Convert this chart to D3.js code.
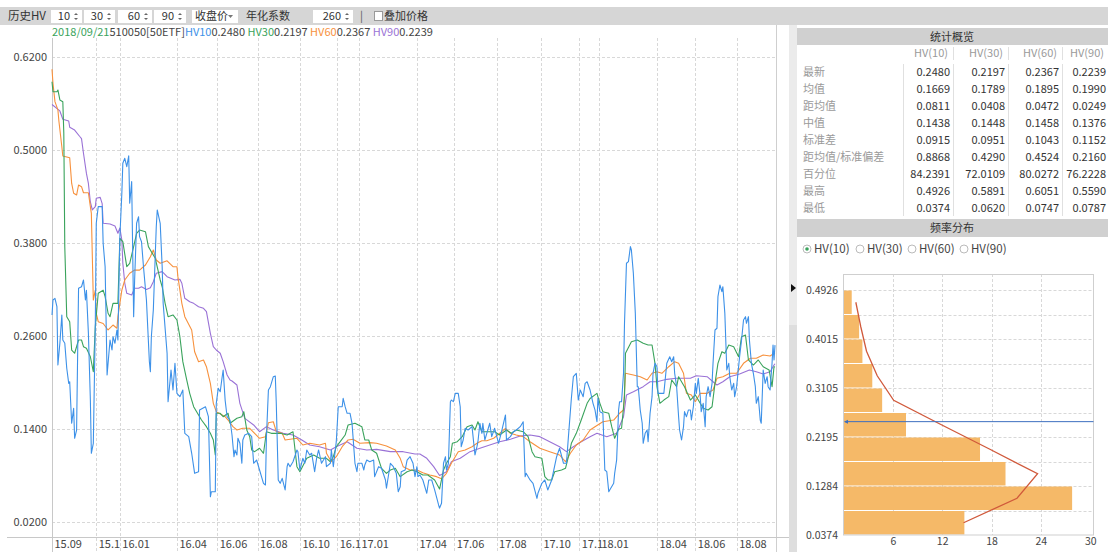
<!DOCTYPE html>
<html>
<head>
<meta charset="utf-8">
<script src="https://cdn.jsdelivr.net/npm/d3@7"></script>
<style>
  body { margin: 0; background: #fff; }
  svg text { font-family: "Noto Sans CJK SC", "Noto Sans", sans-serif; }
</style>
</head>
<body>
<svg id="chart" width="1108" height="552"></svg>
<script>
// ---- data (trading-day index, value) ----
var hv10 = [[0,.287],[1,.3063],[3,.3085],[5,.2977],[6,.2223],[8,.2504],[10,.287],[11,.2546],[13,.2504],[15,.2181],[17,.1986],[18,.2007],[20,.147],[22,.1663],[23,.1276],[25,.1383],[27,.3215],[30,.3235],[32,.3322],[34,.3063],[35,.319],[37,.2633],[39,.177],[40,.1082],[42,.1211],[44,.2718],[45,.4055],[47,.427],[51,.427],[52,.3796],[54,.3494],[56,.2094],[59,.2546],[61,.2417],[62,.2589],[64,.2504],[66,.2676],[67,.2546],[69,.3882],[71,.4443],[72,.483],[74,.4895],[76,.4787],[78,.4926],[79,.4314],[81,.4593],[83,.2848],[84,.3322],[86,.4055],[88,.414],[89,.3882],[91,.3817],[93,.3494],[96,.3063],[99,.2266],[100,.2137],[101,.2589],[103,.2934],[106,.4011],[107,.4227],[110,.4055],[112,.3494],[113,.302],[117,.2375],[118,.1749],[121,.2159],[123,.19],[125,.2245],[127,.1857],[130,.1814],[133,.19],[135,.134],[139,.1297],[142,.1082],[145,.0823],[149,.0844],[150,.1642],[156,.1684],[159,.1555],[161,.052],[162,.0585],[166,.0585],[167,.1728],[169,.1922],[171,.1878],[173,.2072],[174,.2159],[176,.177],[178,.1555],[181,.1512],[183,.1318],[185,.1038],[186,.1125],[188,.106],[189,.1276],[191,.1211],[193,.0953],[194,.1254],[196,.1318],[200,.134],[203,.1297],[205,.0953],[208,.0995],[211,.0866],[215,.0694],[217,.0672],[218,.1297],[220,.19],[222,.1943],[225,.2072],[227,.2081],[228,.1728],[230,.0737],[232,.0694],[234,.0758],[237,.0608],[239,.0909],[240,.0953],[242,.0909],[245,.0973],[249,.1125],[250,.1103],[252,.0866],[255,.1017],[257,.0953],[259,.1125],[262,.106],[264,.1082],[267,.0844],[269,.1017],[271,.1125],[274,.0953],[278,.1038],[279,.0909],[283,.0953],[284,.1125],[286,.0909],[288,.1125],[289,.1232],[291,.1684],[295,.1684],[296,.1793],[298,.1684],[300,.1599],[303,.1599],[305,.147],[306,.1297],[308,.0953],[310,.0844],[311,.0953],[315,.0953],[317,.0866],[318,.0931],[320,.0995],[323,.0973],[327,.0995],[328,.078],[332,.0909],[335,.0888],[339,.0737],[340,.063],[344,.0953],[347,.0909],[350,.0823],[352,.0585],[354,.065],[355,.0844],[359,.0866],[361,.0995],[364,.1038],[367,.0953],[369,.078],[371,.0909],[372,.078],[374,.0801],[377,.0737],[381,.0565],[383,.0737],[386,.0737],[389,.0608],[393,.0414],[394,.0374],[396,.0436],[398,.0953],[400,.1038],[401,.0866],[403,.0953],[405,.1749],[406,.177],[408,.1749],[410,.1857],[413,.1857],[415,.1684],[416,.1167],[418,.1254],[420,.1405],[423,.1383],[427,.1426],[430,.106],[432,.1167],[433,.1232],[435,.147],[437,.134],[438,.147],[440,.1254],[442,.134],[445,.147],[447,.1297],[450,.1405],[454,.1211],[457,.1361],[461,.1577],[462,.1254],[466,.1297],[469,.1361],[472,.1383],[476,.1426],[479,.149],[481,.078],[482,.0823],[486,.0737],[489,.0694],[493,.05],[494,.0565],[498,.0694],[501,.0737],[504,.0608],[508,.0737],[513,.1038],[516,.1147],[520,.0953],[523,.0953],[525,.1297],[528,.1793],[530,.2072],[533,.2116],[535,.177],[537,.19],[540,.1814],[542,.1986],[544,.2007],[547,.19],[550,.1728],[552,.1642],[554,.149],[555,.1793],[557,.162],[560,.1599],[562,.0866],[564,.0844],[566,.0585],[567,.0608],[571,.0694],[572,.0823],[574,.0995],[576,.1642],[577,.1749],[579,.1749],[581,.2116],[582,.2762],[584,.3538],[586,.3559],[588,.3753],[589,.371],[591,.3409],[593,.2892],[595,.1943],[596,.1943],[598,.1642],[600,.147],[601,.1211],[603,.134],[605,.1383],[606,.1232],[608,.1599],[610,.1814],[611,.2116],[613,.2245],[615,.2201],[616,.1857],[618,.1857],[622,.1857],[625,.2245],[628,.233],[630,.2266],[632,.233],[633,.2116],[635,.1943],[637,.1555],[638,.1383],[640,.1254],[642,.1426],[643,.162],[645,.1555],[647,.1642],[649,.1642],[650,.1512],[652,.1684],[654,.1986],[655,.1857],[657,.2051],[659,.1814],[660,.162],[662,.1728],[664,.1426],[665,.1814],[667,.1943],[669,.1814],[671,.1986],[672,.2245],[674,.2676],[676,.2698],[677,.3106],[679,.3257],[681,.3171],[682,.3235],[684,.2892],[686,.2159],[688,.2245],[689,.2072],[691,.19],[693,.1986],[694,.1814],[696,.1943],[698,.2201],[699,.233],[701,.2546],[703,.2805],[705,.2848],[706,.2762],[708,.2848],[709,.2546],[711,.2245],[713,.2116],[715,.1943],[716,.1728],[718,.1814],[720,.1512],[721,.147],[723,.2159],[725,.1986],[727,.2072],[728,.1943],[730,.19],[732,.2245],[733,.2482],[734,.2288],[735,.248]];

var hv30 = [[0,.5885],[1,.5756],[5,.5756],[6,.5778],[8,.5649],[11,.5627],[12,.5218],[13,.3753],[15,.2848],[18,.2783],[20,.2417],[23,.2375],[27,.2546],[30,.2546],[32,.246],[35,.2439],[39,.233],[42,.2137],[44,.2718],[47,.315],[52,.319],[54,.3106],[57,.2892],[59,.2848],[62,.302],[67,.302],[69,.3861],[72,.3817],[76,.3494],[79,.3538],[83,.3753],[86,.3926],[89,.3968],[95,.3946],[98,.3753],[101,.3688],[105,.3602],[110,.3322],[112,.3235],[115,.302],[118,.2848],[123,.287],[127,.2805],[130,.2589],[133,.2266],[137,.2029],[140,.1857],[144,.1684],[149,.1577],[152,.1512],[157,.1426],[161,.134],[164,.1254],[166,.106],[167,.1599],[171,.1599],[174,.1555],[179,.1599],[181,.147],[188,.1534],[193,.1555],[195,.162],[198,.1383],[201,.1297],[203,.1125],[206,.1103],[211,.1147],[215,.1082],[218,.1361],[223,.134],[232,.134],[239,.1318],[245,.1361],[249,.0909],[252,.0844],[259,.1017],[266,.106],[272,.1017],[279,.1017],[283,.0973],[286,.1038],[289,.1167],[293,.1232],[298,.1318],[301,.1448],[308,.147],[315,.1426],[318,.1254],[322,.1254],[325,.1125],[330,.1082],[335,.0888],[340,.0823],[344,.0866],[349,.0888],[354,.078],[361,.0844],[366,.0866],[371,.0844],[377,.0801],[382,.0801],[389,.0737],[394,.062],[398,.0866],[401,.0953],[405,.1038],[407,.1211],[412,.1232],[417,.1297],[422,.1426],[427,.1448],[430,.1383],[433,.149],[437,.1361],[444,.1361],[450,.1361],[455,.1318],[462,.1383],[467,.134],[472,.1383],[479,.1361],[484,.1297],[488,.1103],[491,.1038],[498,.1017],[501,.078],[504,.0737],[508,.0737],[511,.0844],[518,.0866],[522,.0888],[525,.1038],[528,.1211],[533,.134],[538,.1512],[544,.1728],[547,.179],[554,.1857],[557,.1728],[560,.162],[566,.1599],[569,.1426],[572,.1276],[576,.1392],[579,.1405],[582,.1814],[583,.2374],[589,.2524],[595,.2546],[601,.2504],[606,.2482],[610,.2482],[613,.2245],[615,.1943],[618,.1728],[622,.177],[627,.1814],[630,.2029],[635,.1943],[637,.2072],[643,.1943],[649,.177],[654,.1836],[659,.1728],[662,.1663],[667,.1642],[671,.1684],[674,.1986],[677,.2245],[681,.2395],[684,.2374],[688,.2482],[693,.246],[698,.233],[701,.2589],[705,.261],[708,.2288],[713,.2223],[718,.2288],[723,.2201],[729,.2159],[732,.1943],[734,.2201],[735,.2197]];

var hv60 = [[0,.6045],[1,.5865],[3,.5627],[6,.552],[7,.5377],[10,.5045],[11,.4925],[18,.4903],[20,.457],[22,.4443],[25,.442],[27,.455],[30,.4528],[32,.445],[37,.445],[39,.427],[40,.4184],[42,.3063],[44,.319],[45,.2892],[47,.2783],[52,.276],[57,.2676],[62,.274],[66,.2698],[67,.2848],[71,.319],[74,.3322],[79,.3409],[84,.345],[89,.345],[95,.3516],[100,.3623],[103,.371],[106,.358],[110,.3538],[117,.357],[123,.3494],[127,.3494],[128,.3365],[132,.302],[135,.2848],[142,.2676],[145,.2395],[149,.2266],[154,.2288],[157,.2201],[161,.1986],[164,.1728],[167,.162],[173,.1577],[176,.1555],[179,.1512],[184,.1426],[188,.1383],[194,.1405],[201,.1405],[206,.134],[211,.1276],[217,.1297],[220,.1477],[225,.149],[228,.1361],[234,.134],[237,.1254],[249,.1276],[255,.1189],[262,.1211],[272,.1189],[278,.1211],[279,.1082],[284,.0973],[289,.1038],[295,.1167],[301,.1254],[306,.1263],[313,.1211],[323,.122],[330,.1211],[340,.1176],[349,.1125],[354,.1017],[357,.0909],[364,.0866],[371,.0866],[377,.0831],[384,.0801],[391,.078],[396,.0752],[401,.0823],[406,.0953],[413,.1103],[420,.1125],[427,.1167],[432,.1211],[437,.1245],[442,.1245],[449,.1276],[455,.134],[461,.1405],[466,.134],[472,.1318],[479,.1297],[486,.1232],[496,.1147],[506,.1103],[516,.106],[522,.0973],[527,.1082],[533,.1189],[540,.1254],[547,.1383],[552,.1426],[560,.149],[571,.1512],[577,.1599],[581,.1642],[583,.2116],[591,.2094],[598,.2072],[605,.2029],[610,.2116],[615,.2137],[620,.2116],[627,.2201],[633,.2266],[637,.2245],[642,.2116],[645,.1857],[650,.1836],[654,.1749],[659,.1857],[666,.1857],[672,.19],[676,.2051],[682,.2072],[689,.2116],[696,.2116],[703,.2245],[710,.231],[716,.231],[723,.2353],[730,.234],[734,.2374],[735,.2367]];

var hv90 = [[0,.559],[8,.5507],[11,.540],[17,.5377],[18,.5296],[23,.526],[28,.518],[30,.515],[32,.496],[35,.470],[37,.457],[39,.433],[41,.4227],[44,.427],[45,.4378],[49,.439],[51,.431],[52,.4055],[59,.4046],[64,.402],[67,.3926],[69,.3994],[71,.3839],[72,.3538],[74,.328],[76,.315],[81,.3128],[84,.3215],[88,.3215],[91,.3235],[96,.320],[100,.3222],[103,.330],[106,.3409],[112,.343],[117,.3365],[125,.3322],[130,.333],[132,.328],[135,.3085],[140,.3041],[144,.302],[149,.2977],[154,.2956],[157,.2912],[161,.2633],[164,.246],[167,.2417],[171,.2375],[174,.2266],[178,.2094],[181,.203],[183,.2016],[188,.1965],[191,.1728],[196,.1534],[205,.1448],[211,.1361],[218,.1426],[225,.1383],[235,.134],[245,.1318],[254,.1254],[262,.1189],[272,.1167],[283,.1125],[289,.1167],[300,.1232],[310,.1147],[320,.1125],[330,.1133],[344,.1103],[357,.1103],[369,.1073],[374,.1073],[381,.1017],[388,.0909],[394,.0795],[401,.0844],[406,.0973],[415,.1017],[425,.1103],[435,.1147],[445,.1189],[455,.1232],[466,.1263],[476,.1306],[486,.1318],[496,.1297],[506,.1232],[516,.1167],[523,.1103],[530,.1167],[538,.1232],[547,.1297],[554,.134],[564,.1297],[574,.134],[581,.1555],[584,.1836],[591,.1878],[601,.1943],[608,.2007],[615,.2007],[625,.2038],[635,.2051],[649,.2051],[655,.2085],[666,.2072],[672,.2007],[676,.1965],[682,.2007],[689,.2072],[699,.2107],[709,.2159],[716,.2137],[723,.2107],[730,.2137],[734,.2223],[735,.2239]];

var seriesNames = ['HV10', 'HV30', 'HV60', 'HV90'];
var seriesColors = ['#3d91e8', '#3aa35c', '#f7913d', '#9a72d6'];
var lastValues = [0.2480, 0.2197, 0.2367, 0.2239];

var yTicks = [0.02, 0.14, 0.26, 0.38, 0.50, 0.62];
var monthTicks = [[0,'15.09'],[45,'15.1'],[69,'16.01'],[127,'16.04'],[168,'16.06'],[209,'16.08'],[252,'16.10'],[290,'16.1'],[312,'17.01'],[371,'17.04'],[409,'17.06'],[452,'17.08'],[497,'17.10'],[536,'17.1'],[556,'18.01'],[615,'18.04'],[654,'18.06'],[696,'18.08']];

var statCols = ['HV(10)', 'HV(30)', 'HV(60)', 'HV(90)'];
var statRows = ['最新', '均值', '距均值', '中值', '标准差', '距均值/标准偏差', '百分位', '最高', '最低'];
var statValues = [
  [0.2480, 0.2197, 0.2367, 0.2239],
  [0.1669, 0.1789, 0.1895, 0.1990],
  [0.0811, 0.0408, 0.0472, 0.0249],
  [0.1438, 0.1448, 0.1458, 0.1376],
  [0.0915, 0.0951, 0.1043, 0.1152],
  [0.8868, 0.4290, 0.4524, 0.2160],
  [84.2391, 72.0109, 80.0272, 76.2228],
  [0.4926, 0.5891, 0.6051, 0.5590],
  [0.0374, 0.0620, 0.0747, 0.0787]
];

// frequency distribution of HV(10): 10 bins from low to high, percent of days
var histRange = [0.0374, 0.4926];
var histTicks = [0.0374, 0.1284, 0.2195, 0.3105, 0.4015, 0.4926];
var histPct = [14.7, 27.8, 19.7, 16.6, 7.6, 4.7, 3.5, 2.3, 1.9, 1.0];
var normalPct = [14.6, 21.1, 23.6, 17.8, 11.9, 6.1, 4.1, 2.8, 2.1, 1.5];
var histXTicks = [6, 12, 18, 24, 30];
var radioLabels = ['HV(10)', 'HV(30)', 'HV(60)', 'HV(90)'];

var svg = d3.select('#chart');
var W = 1108, H = 552;
var gridColor = '#d8d8d8', textColor = '#444';

// ---- toolbar ----
svg.append('rect').attr('x', 0).attr('y', 7).attr('width', W).attr('height', 18).attr('fill', '#d6d6d6');
svg.append('text').attr('x', 8).attr('y', 20).attr('font-size', 11.5).attr('fill', '#333').text('历史HV');

var spinBoxes = [
  { x: 51, w: 31, text: '10' }, { x: 84, w: 31, text: '30' },
  { x: 118, w: 34, text: '60' }, { x: 154, w: 32, text: '90' },
  { x: 313, w: 40, text: '260' }
];
spinBoxes.forEach(function(b) {
  svg.append('rect').attr('x', b.x).attr('y', 10).attr('width', b.w).attr('height', 13).attr('fill', '#fff');
  svg.append('text').attr('x', b.x + b.w - 12).attr('y', 20).attr('text-anchor', 'end')
     .attr('font-size', 11).attr('fill', '#333').text(b.text);
  var ax = b.x + b.w - 6;
  svg.append('path').attr('d', 'M' + (ax - 2) + ',15 L' + (ax + 2) + ',15 L' + ax + ',13 Z').attr('fill', '#666');
  svg.append('path').attr('d', 'M' + (ax - 2) + ',18 L' + (ax + 2) + ',18 L' + ax + ',20 Z').attr('fill', '#666');
});
svg.append('rect').attr('x', 192).attr('y', 10).attr('width', 46).attr('height', 13).attr('fill', '#fff');
svg.append('text').attr('x', 195).attr('y', 20).attr('font-size', 11).attr('fill', '#333').text('收盘价');
svg.append('path').attr('d', 'M228,15 L233,15 L230.5,18 Z').attr('fill', '#777');
svg.append('text').attr('x', 246).attr('y', 20).attr('font-size', 11).attr('fill', '#333').text('年化系数');
svg.append('text').attr('x', 360).attr('y', 20).attr('font-size', 11).attr('fill', '#555').text('|');
svg.append('rect').attr('x', 374.5).attr('y', 11.5).attr('width', 8).attr('height', 9).attr('fill', '#fff').attr('stroke', '#999');
svg.append('text').attr('x', 384).attr('y', 20).attr('font-size', 11).attr('fill', '#333').text('叠加价格');

// ---- main chart ----
var x = d3.scaleLinear().domain([0, 735]).range([52, 775]);
var y = d3.scaleLinear().domain([0, 0.6424]).range([537, 40]);

// horizontal grid
svg.append('g').selectAll('line').data(yTicks).join('line')
  .attr('x1', 52).attr('x2', 776).attr('y1', function(d) { return Math.round(y(d)) + 0.5; })
  .attr('y2', function(d) { return Math.round(y(d)) + 0.5; })
  .attr('stroke', gridColor).attr('stroke-dasharray', '3,2');
// vertical grid
svg.append('g').selectAll('line').data(monthTicks.slice(1)).join('line')
  .attr('x1', function(d) { return Math.round(x(d[0])) + 0.5; })
  .attr('x2', function(d) { return Math.round(x(d[0])) + 0.5; })
  .attr('y1', 38).attr('y2', H)
  .attr('stroke', gridColor).attr('stroke-dasharray', '3,2');

// axis frame lines
svg.append('line').attr('x1', 52.5).attr('x2', 52.5).attr('y1', 38).attr('y2', H).attr('stroke', '#c8c8c8');
svg.append('line').attr('x1', 776.5).attr('x2', 776.5).attr('y1', 25).attr('y2', H).attr('stroke', '#cfcfcf');
svg.append('line').attr('x1', 7).attr('x2', 790).attr('y1', 537.5).attr('y2', 537.5).attr('stroke', '#c8c8c8');

// y axis labels
var yAxis = d3.axisLeft(y).tickValues(yTicks).tickFormat(d3.format('.4f')).tickSize(0).tickPadding(5);
var gy = svg.append('g').attr('transform', 'translate(52,0)').call(yAxis);
gy.select('.domain').remove();
gy.selectAll('text').attr('font-size', 11).attr('fill', textColor)
  .style('font-family', '"Noto Sans CJK SC", "Noto Sans", sans-serif');

// x axis labels
var xAxis = d3.axisBottom(x).tickValues(monthTicks.map(function(d) { return d[0]; }))
  .tickFormat(function(d, i) { return monthTicks[i][1]; }).tickSize(0).tickPadding(0);
var gx = svg.append('g').attr('transform', 'translate(0,537)').call(xAxis);
gx.select('.domain').remove();
gx.selectAll('text').attr('text-anchor', 'start').attr('dx', 2).attr('y', 3).attr('dy', '0.71em')
  .attr('font-size', 11).attr('fill', textColor)
  .style('font-family', '"Noto Sans CJK SC", "Noto Sans", sans-serif');

// series lines
var line = d3.line().x(function(d) { return x(d[0]); }).y(function(d) { return y(d[1]); });
var allSeries = [hv10, hv30, hv60, hv90];
[3, 2, 1, 0].forEach(function(i) {
  svg.append('path').datum(allSeries[i]).attr('d', line)
    .attr('fill', 'none').attr('stroke', seriesColors[i]).attr('stroke-width', 1.1)
    .attr('stroke-linejoin', 'round');
});

// legend line
var legend = svg.append('text').attr('x', 52).attr('y', 35.5).attr('font-size', 11);
legend.append('tspan').attr('fill', '#3aa35c').text('2018/09/21');
legend.append('tspan').attr('fill', '#444').text('510050[50ETF]');
seriesNames.forEach(function(n, i) {
  legend.append('tspan').attr('fill', seriesColors[i]).text((i > 0 ? ' ' : '') + n);
  legend.append('tspan').attr('fill', '#444').text(d3.format('.4f')(lastValues[i]));
});

// ---- right panel ----
svg.append('rect').attr('x', 789).attr('y', 25).attr('width', 8).attr('height', H - 25).attr('fill', '#ebebeb');
svg.append('rect').attr('x', 789).attr('y', 325).attr('width', 8).attr('height', H - 325).attr('fill', '#dedede');
svg.append('path').attr('d', 'M791,284 L796,288 L791,292 Z').attr('fill', '#111');

// stats header
svg.append('rect').attr('x', 797).attr('y', 28).attr('width', W - 797).attr('height', 17).attr('fill', '#d0d0d0');
svg.append('text').attr('x', 952).attr('y', 40.5).attr('text-anchor', 'middle').attr('font-size', 11)
  .attr('fill', '#333').text('统计概览');

var colRight = [950, 1005, 1059, 1106];
var colSep = [903.5, 953.5, 1008.5, 1062.5];
svg.append('g').selectAll('text').data(statCols).join('text')
  .attr('x', function(d, i) { return colRight[i] - 2; }).attr('y', 57)
  .attr('text-anchor', 'end').attr('font-size', 11).attr('fill', '#9a9a9a').text(function(d) { return d; });
svg.append('g').selectAll('line').data(colSep.slice(1)).join('line')
  .attr('x1', function(d) { return d; }).attr('x2', function(d) { return d; })
  .attr('y1', 47).attr('y2', 60).attr('stroke', '#e0e0e0');
svg.append('g').selectAll('line').data(colSep).join('line')
  .attr('x1', function(d) { return d; }).attr('x2', function(d) { return d; })
  .attr('y1', 64).attr('y2', 216).attr('stroke', '#e0e0e0');

var rowY = d3.scalePoint().domain(statRows).range([76, 212]);
svg.append('g').selectAll('text').data(statRows).join('text')
  .attr('x', 803).attr('y', function(d) { return rowY(d); })
  .attr('font-size', 11).attr('fill', '#9a9a9a').text(function(d) { return d; });
statRows.forEach(function(r, ri) {
  svg.append('g').selectAll('text').data(statValues[ri]).join('text')
    .attr('x', function(d, i) { return colRight[i]; }).attr('y', rowY(r))
    .attr('text-anchor', 'end').attr('font-size', 11).attr('fill', '#333')
    .text(function(d) { return d3.format('.4f')(d); });
});

// frequency header
svg.append('rect').attr('x', 797).attr('y', 219).attr('width', W - 797).attr('height', 18).attr('fill', '#d0d0d0');
svg.append('text').attr('x', 952).attr('y', 232).attr('text-anchor', 'middle').attr('font-size', 11)
  .attr('fill', '#333').text('频率分布');

var radioX = [807, 860, 912, 964];
radioLabels.forEach(function(l, i) {
  svg.append('circle').attr('cx', radioX[i]).attr('cy', 249).attr('r', 4)
    .attr('fill', '#fff').attr('stroke', '#bbb');
  if (i === 0) svg.append('circle').attr('cx', radioX[i]).attr('cy', 249).attr('r', 1.8).attr('fill', '#3aa35c');
  svg.append('text').attr('x', radioX[i] + 7).attr('y', 253).attr('font-size', 11.5).attr('fill', '#444').text(l);
});

// histogram
var hx = d3.scaleLinear().domain([0, 30.4]).range([843.5, 1093.5]);
var hy = d3.scaleLinear().domain(histRange).range([535, 290]);
var binW = (histRange[1] - histRange[0]) / histPct.length;
var bins = histPct.map(function(p, i) {
  return { lo: histRange[0] + i * binW, hi: histRange[0] + (i + 1) * binW, pct: p, norm: normalPct[i] };
});

// grid
var hGrid = svg.append('g');
hGrid.selectAll('line.h').data(bins.slice(1)).join('line')
  .attr('x1', 843.5).attr('x2', 1093.5)
  .attr('y1', function(d) { return Math.round(hy(d.lo)) + 0.5; })
  .attr('y2', function(d) { return Math.round(hy(d.lo)) + 0.5; })
  .attr('stroke', gridColor).attr('stroke-dasharray', '3,2');
hGrid.append('line').attr('x1', 843.5).attr('x2', 1093.5)
  .attr('y1', Math.round(hy(histRange[1])) + 0.5).attr('y2', Math.round(hy(histRange[1])) + 0.5)
  .attr('stroke', gridColor).attr('stroke-dasharray', '3,2');
hGrid.selectAll('line.v').data(histXTicks.slice(0, -1)).join('line')
  .attr('x1', function(d) { return Math.round(hx(d)) + 0.5; })
  .attr('x2', function(d) { return Math.round(hx(d)) + 0.5; })
  .attr('y1', 274).attr('y2', 535)
  .attr('stroke', gridColor).attr('stroke-dasharray', '3,2');

// bars
svg.append('g').selectAll('rect').data(bins).join('rect')
  .attr('x', hx(0))
  .attr('y', function(d) { return hy(d.hi) + 0.5; })
  .attr('width', function(d) { return hx(d.pct) - hx(0); })
  .attr('height', function(d) { return hy(d.lo) - hy(d.hi) - 1; })
  .attr('fill', '#f5b968');

// frame
svg.append('rect').attr('x', 843.5).attr('y', 274.5).attr('width', 250).attr('height', 260.5)
  .attr('fill', 'none').attr('stroke', '#cfcfcf');

// normal curve
var nLine = d3.line().x(function(d) { return hx(d.norm); }).y(function(d) { return hy((d.lo + d.hi) / 2); });
svg.append('path').datum(bins).attr('d', nLine).attr('fill', 'none')
  .attr('stroke', '#d0593b').attr('stroke-width', 1.3);

// latest value marker
var ly = hy(lastValues[0]);
svg.append('line').attr('x1', 845).attr('x2', 1093.5).attr('y1', ly).attr('y2', ly)
  .attr('stroke', '#3d6fbf').attr('stroke-width', 1);
svg.append('path').attr('d', 'M844,' + ly + ' L848,' + (ly - 2) + ' L848,' + (ly + 2) + ' Z').attr('fill', '#3d6fbf');

// histogram axes
var hyAxis = d3.axisLeft(hy).tickValues(histTicks).tickFormat(d3.format('.4f')).tickSize(0).tickPadding(5);
var ghy = svg.append('g').attr('transform', 'translate(843,0)').call(hyAxis);
ghy.select('.domain').remove();
ghy.selectAll('text').attr('font-size', 10.5).attr('fill', textColor)
  .style('font-family', '"Noto Sans CJK SC", "Noto Sans", sans-serif');

var hxAxis = d3.axisBottom(hx).tickValues(histXTicks).tickSize(0).tickPadding(3);
var ghx = svg.append('g').attr('transform', 'translate(0,535)').call(hxAxis);
ghx.select('.domain').remove();
ghx.selectAll('text').attr('font-size', 10.5).attr('fill', textColor)
  .style('font-family', '"Noto Sans CJK SC", "Noto Sans", sans-serif');
</script>
</body>
</html>
